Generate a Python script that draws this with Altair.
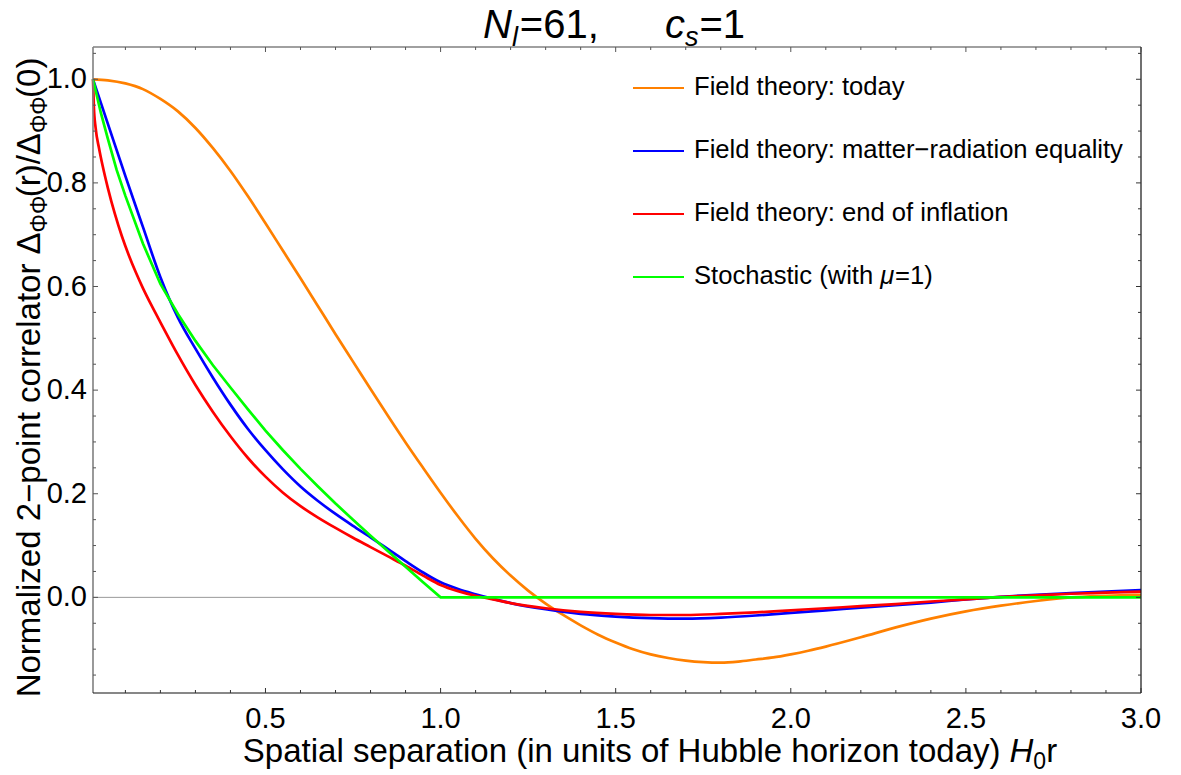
import altair as alt
import pandas as pd

# ---------------- data ----------------
names = ["Field theory: today", "Field theory: matter\u2212radiation equality",
         "Field theory: end of inflation", "Stochastic (with \u03bc=1)"]
colors = ["#FF8000", "#0000FF", "#FF0000", "#00FF00"]

x_today = [0.0075, 0.05, 0.1, 0.15, 0.2, 0.25, 0.3, 0.35, 0.4, 0.45, 0.5, 0.55, 0.6, 0.65, 0.7,
           0.75, 0.8, 0.85, 0.9, 0.95, 1.0, 1.05, 1.1, 1.15, 1.2, 1.25, 1.3, 1.35, 1.4, 1.45,
           1.5, 1.55, 1.6, 1.65, 1.7, 1.75, 1.8, 1.85, 1.9, 1.95, 2.0, 2.05, 2.1, 2.2, 2.3,
           2.4, 2.5, 2.6, 2.7, 2.8, 2.9, 3.0]
y_today = [1.0, 0.998, 0.992, 0.981, 0.962, 0.938, 0.906, 0.867, 0.823, 0.774, 0.722, 0.669,
           0.616, 0.562, 0.508, 0.455, 0.402, 0.350, 0.299, 0.250, 0.202, 0.156, 0.113, 0.075,
           0.042, 0.013, -0.012, -0.034, -0.054, -0.072, -0.087, -0.100, -0.110, -0.117,
           -0.122, -0.125, -0.126, -0.124, -0.120, -0.116, -0.110, -0.103, -0.095, -0.077,
           -0.058, -0.041, -0.027, -0.016, -0.007, 0.0, 0.003, 0.005]

x_equal = [0.0075, 0.05, 0.1, 0.15, 0.2, 0.25, 0.3, 0.35, 0.4, 0.45, 0.5, 0.55, 0.6, 0.65, 0.7,
           0.75, 0.8, 0.85, 0.9, 0.95, 1.0, 1.05, 1.1, 1.15, 1.2, 1.3, 1.4, 1.5, 1.6, 1.7, 1.8,
           1.9, 2.0, 2.1, 2.2, 2.3, 2.4, 2.5, 2.6, 2.7, 2.8, 2.9, 3.0]
y_equal = [1.0, 0.914, 0.813, 0.715, 0.618, 0.540, 0.480, 0.424, 0.372, 0.325, 0.284, 0.247,
           0.214, 0.186, 0.161, 0.138, 0.116, 0.093, 0.070, 0.048, 0.029, 0.016, 0.006, -0.003,
           -0.011, -0.023, -0.032, -0.037, -0.040, -0.041, -0.039, -0.035, -0.030, -0.025,
           -0.020, -0.015, -0.010, -0.004, 0.001, 0.005, 0.008, 0.011, 0.014]

x_infl = [0.0075, 0.01, 0.015, 0.025, 0.035, 0.05, 0.07, 0.09, 0.11, 0.13, 0.15, 0.175, 0.2,
          0.25, 0.3, 0.35, 0.4, 0.45, 0.5, 0.55, 0.6, 0.65, 0.7, 0.75, 0.8, 0.85, 0.9, 0.95,
          1.0, 1.05, 1.1, 1.15, 1.2, 1.3, 1.4, 1.5, 1.6, 1.7, 1.8, 1.9, 2.0, 2.1, 2.2, 2.3,
          2.4, 2.5, 2.6, 2.7, 2.8, 2.9, 3.0]
y_infl = [1.0, 0.947, 0.906, 0.866, 0.833, 0.790, 0.740, 0.697, 0.660, 0.627, 0.597, 0.563,
          0.531, 0.468, 0.410, 0.358, 0.311, 0.269, 0.233, 0.202, 0.176, 0.154, 0.134, 0.115,
          0.097, 0.079, 0.061, 0.042, 0.024, 0.012, 0.003, -0.004, -0.011, -0.021, -0.028,
          -0.032, -0.034, -0.034, -0.032, -0.029, -0.025, -0.021, -0.017, -0.013, -0.008,
          -0.004, 0.001, 0.004, 0.007, 0.009, 0.011]

x_stoch = [0.0075, 0.03, 0.05, 0.075, 0.1, 0.15, 0.2, 0.25, 0.3, 0.35, 0.4, 0.45, 0.5, 0.55, 0.6,
           0.65, 0.7, 0.75, 0.8, 0.85, 0.9, 0.95, 1.0, 3.0]
y_stoch = [1.0, 0.935, 0.885, 0.825, 0.775, 0.683, 0.605, 0.547, 0.495, 0.448, 0.405, 0.363,
           0.322, 0.284, 0.248, 0.214, 0.181, 0.150, 0.119, 0.089, 0.059, 0.029, 0.0, 0.0]

x_major = [0.5, 1.0, 1.5, 2.0, 2.5, 3.0]
x_minor = [0.1, 0.2, 0.3, 0.4, 0.6, 0.7, 0.8, 0.9, 1.1, 1.2, 1.3, 1.4, 1.6, 1.7, 1.8, 1.9,
           2.1, 2.2, 2.3, 2.4, 2.6, 2.7, 2.8, 2.9]
y_major = [0.0, 0.2, 0.4, 0.6, 0.8, 1.0]
y_minor = [-0.15, -0.1, -0.05, 0.05, 0.1, 0.15, 0.25, 0.3, 0.35, 0.45, 0.5, 0.55, 0.65, 0.7,
           0.75, 0.85, 0.9, 0.95, 1.05]

X_DOMAIN = [0.0075, 3.0]
Y_DOMAIN = [-0.1846, 1.0623]

# ---------------- layout / style ----------------
W, H = 1048, 646
PAD_L, PAD_T = 93, 47
FONT = "Liberation Sans"
TICK_FS = 29
TITLE_FS = 33
SUB_FS = 23

ARIAL = {' ': 278, 'N': 722, 'o': 556, 'r': 333, 'm': 833, 'a': 556, 'l': 222, 'i': 222,
         'z': 500, 'e': 556, 'd': 556, '2': 556, '\u2212': 584, 'p': 556, 'n': 556, 't': 278,
         'c': 500, '(': 333, ')': 333, '/': 278, '\u0394': 668, '\u03a6': 764, '0': 556,
         'S': 667, 's': 500, 'H': 722, 'u': 556, 'b': 556, 'h': 556, 'y': 500, 'f': 278,
         '1': 556, '6': 556, '=': 584, ',': 278, 'F': 611, 'q': 556, ':': 278, '\u03bc': 576,
         'w': 722}


def tw(s, size):
    return sum(ARIAL.get(ch, 556) for ch in s) * size / 1000.0


def txt(s, x, y, size, style="normal", angle=0, align="left", baseline="alphabetic"):
    return alt.Chart(pd.DataFrame({"t": [s]})).mark_text(
        font=FONT, fontSize=size, fontStyle=style, angle=angle, align=align,
        baseline=baseline, color="black"
    ).encode(text="t:N", x=alt.value(x), y=alt.value(y))


xs = alt.Scale(domain=X_DOMAIN, nice=False, zero=False)
ys = alt.Scale(domain=Y_DOMAIN, nice=False, zero=False)


def curve(xv, yv, col, interp):
    d = pd.DataFrame({"x": xv, "y": yv})
    return alt.Chart(d).mark_line(strokeWidth=2.7, interpolate=interp, color=col).encode(
        x=alt.X("x:Q", scale=xs, axis=None),
        y=alt.Y("y:Q", scale=ys, axis=None),
    )


zero_line = alt.Chart(pd.DataFrame({"z": [0.0]})).mark_rule(
    color="#9a9a9a", strokeWidth=1).encode(y=alt.Y("z:Q", scale=ys, axis=None))

layers = [zero_line,
          curve(x_today, y_today, colors[0], "monotone"),
          curve(x_equal, y_equal, colors[1], "monotone"),
          curve(x_infl, y_infl, colors[2], "monotone"),
          curve(x_stoch, y_stoch, colors[3], "linear")]

# frame
one = pd.DataFrame({"a": [0]})
layers.append(alt.Chart(one).mark_rule(color="#808080", strokeWidth=1.6).encode(
    x=alt.value(0), x2=alt.value(W), y=alt.value(0)))
layers.append(alt.Chart(one).mark_rule(color="#808080", strokeWidth=1.6).encode(
    x=alt.value(0), y=alt.value(0), y2=alt.value(H)))
layers.append(alt.Chart(one).mark_rule(color="#111111", strokeWidth=1.2).encode(
    x=alt.value(0), x2=alt.value(W), y=alt.value(H)))
layers.append(alt.Chart(one).mark_rule(color="#111111", strokeWidth=1.2).encode(
    x=alt.value(W), y=alt.value(0), y2=alt.value(H)))

# ticks (inward, all four sides)
for vals, ln in [(x_major, 5), (x_minor, 3)]:
    d = pd.DataFrame({"v": vals})
    layers.append(alt.Chart(d).mark_rule(color="#333333", strokeWidth=1).encode(
        x=alt.X("v:Q", scale=xs, axis=None), y=alt.value(H), y2=alt.value(H - ln)))
    layers.append(alt.Chart(d).mark_rule(color="#555555", strokeWidth=1).encode(
        x=alt.X("v:Q", scale=xs, axis=None), y=alt.value(0), y2=alt.value(ln)))
for vals, ln in [(y_major, 5), (y_minor, 3)]:
    d = pd.DataFrame({"v": vals})
    layers.append(alt.Chart(d).mark_rule(color="#555555", strokeWidth=1).encode(
        y=alt.Y("v:Q", scale=ys, axis=None), x=alt.value(0), x2=alt.value(ln)))
    layers.append(alt.Chart(d).mark_rule(color="#333333", strokeWidth=1).encode(
        y=alt.Y("v:Q", scale=ys, axis=None), x=alt.value(W), x2=alt.value(W - ln)))

# tick labels
dxl = pd.DataFrame({"v": x_major, "lab": [f"{v:.1f}" for v in x_major]})
layers.append(alt.Chart(dxl).mark_text(font=FONT, fontSize=TICK_FS, align="center",
                                       baseline="alphabetic", color="black").encode(
    x=alt.X("v:Q", scale=xs, axis=None), y=alt.value(H + 35), text="lab:N"))
dyl = pd.DataFrame({"v": y_major, "lab": [f"{v:.1f}" for v in y_major]})
layers.append(alt.Chart(dyl).mark_text(font=FONT, fontSize=TICK_FS, align="right",
                                       baseline="middle", color="black").encode(
    y=alt.Y("v:Q", scale=ys, axis=None), x=alt.value(-6), text="lab:N"))

# x-axis title:  Spatial separation (...) H_0 r
xt_main = "Spatial separation (in units of Hubble horizon today) "
xt_total = tw(xt_main, TITLE_FS) + tw("H", TITLE_FS) + tw("0", SUB_FS) + tw("r", TITLE_FS)
xt0 = 650 - PAD_L - xt_total / 2
xb = 762 - PAD_T
layers.append(txt(xt_main, xt0, xb, TITLE_FS))
cx = xt0 + tw(xt_main, TITLE_FS)
layers.append(txt("H", cx, xb, TITLE_FS, style="italic"))
cx += tw("H", TITLE_FS)
layers.append(txt("0", cx, xb + 7, SUB_FS))
cx += tw("0", SUB_FS)
layers.append(txt("r", cx, xb, TITLE_FS))

# y-axis title (rotated), with subscripts
ypieces = [("Normalized 2\u2212point correlator \u0394", TITLE_FS, False),
           ("\u03a6\u03a6", SUB_FS, True),
           ("(r)/\u0394", TITLE_FS, False),
           ("\u03a6\u03a6", SUB_FS, True),
           ("(0)", TITLE_FS, False)]
y_total = sum(tw(p, s) for p, s, _ in ypieces)
cy = (377.5 - PAD_T) + y_total / 2
base_x = 40 - PAD_L
for p, s, sub in ypieces:
    layers.append(txt(p, base_x + (7 if sub else 0), cy, s, angle=270))
    cy -= tw(p, s)

# chart title: N_l=61,    c_s=1
TT = 40
TS = 27
tb = 38 - PAD_T
tx = 483 - PAD_L
layers.append(txt("N", tx, tb, TT, style="italic"))
tx += tw("N", TT)
layers.append(txt("l", tx, tb + 8, TS, style="italic"))
tx += tw("l", TS) + 2
layers.append(txt("=61,", tx, tb, TT))
tx = 665 - PAD_L
layers.append(txt("c", tx, tb, TT, style="italic"))
tx += tw("c", TT)
layers.append(txt("s", tx, tb + 8, TS, style="italic"))
tx += tw("s", TS) + 1
layers.append(txt("=1", tx, tb, TT))

# legend (drawn by hand, Mathematica style)
LEG_FS = 25.6
leg_rows = [88, 151, 214, 277]
for nm, col, ry in zip(names, colors, leg_rows):
    yy = ry - PAD_T
    layers.append(alt.Chart(one).mark_rule(color=col, strokeWidth=2.2).encode(
        x=alt.value(633 - PAD_L), x2=alt.value(684 - PAD_L), y=alt.value(yy)))
    lx = 694 - PAD_L
    if "\u03bc" in nm:
        pre, post = nm.split("\u03bc")
        layers.append(txt(pre, lx, yy + 7, LEG_FS))
        lx += tw(pre, LEG_FS)
        layers.append(txt("\u03bc", lx, yy + 7, LEG_FS, style="italic"))
        lx += tw("\u03bc", LEG_FS)
        layers.append(txt(post, lx, yy + 7, LEG_FS))
    else:
        layers.append(txt(nm, lx, yy + 7, LEG_FS))

chart = alt.layer(*layers).properties(
    width=W, height=H,
    autosize=alt.AutoSizeParams(type="none"),
    padding={"left": PAD_L, "top": PAD_T, "right": 1181 - PAD_L - W, "bottom": 775 - PAD_T - H},
    background="white",
).configure_view(stroke=None)

chart.save("out.html", embed_options={"renderer": "svg", "actions": False})
